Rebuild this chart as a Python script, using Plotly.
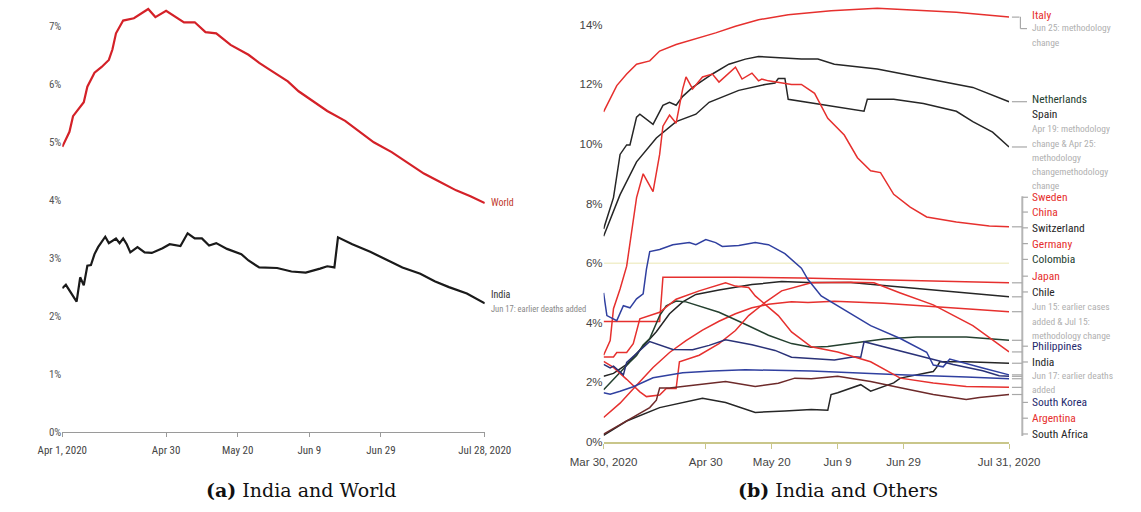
import plotly.graph_objects as go
import pandas as pd

W, H = 1141, 512

# ---------------- Panel (a): India and World (days since Apr 1, 2020; CFR %) ----------------
world_days = [0, 2, 3, 5, 6, 7, 9, 11, 13, 14, 15, 17, 20, 24, 26, 29, 34, 37, 40, 43,
              47, 52, 55, 58, 63, 66, 70, 74, 79, 83, 87, 92, 97, 101, 105, 110, 114, 118]
world_cfr = [4.92, 5.18, 5.45, 5.60, 5.69, 5.96, 6.20, 6.30, 6.42, 6.60, 6.88, 7.10, 7.14, 7.30, 7.16,
             7.27, 7.07, 7.07, 6.90, 6.88, 6.68, 6.51, 6.37, 6.25, 6.05, 5.88, 5.71, 5.54, 5.37, 5.18,
             5.00, 4.83, 4.63, 4.46, 4.33, 4.17, 4.07, 3.95]

india_a_days = [0, 1, 4, 5, 6, 7, 8, 9, 10, 12, 13, 15, 16, 17, 18, 19, 21, 23, 25, 28, 30, 33, 35,
                37, 39, 41, 43, 46, 50, 52, 55, 60, 64, 68, 72, 74, 76, 77, 81, 86, 91, 95, 100,
                104, 108, 113, 118]
india_a_cfr = [2.48, 2.54, 2.25, 2.67, 2.53, 2.87, 2.88, 3.07, 3.19, 3.37, 3.26, 3.34, 3.26, 3.34,
               3.24, 3.10, 3.19, 3.10, 3.09, 3.17, 3.24, 3.21, 3.43, 3.34, 3.34, 3.22, 3.26, 3.16,
               3.07, 2.96, 2.84, 2.83, 2.77, 2.75, 2.82, 2.86, 2.84, 3.36, 3.24, 3.11, 2.96, 2.84,
               2.73, 2.60, 2.50, 2.39, 2.22]

a_tick_dates = ["2020-04-01", "2020-04-30", "2020-05-20", "2020-06-09", "2020-06-29", "2020-07-28"]
a_tick_text = ["Apr 1, 2020", "Apr 30", "May 20", "Jun 9", "Jun 29", "Jul 28, 2020"]
a_y_ticks = [0, 1, 2, 3, 4, 5, 6, 7]

# ---------------- Panel (b): India and Others (days since Mar 30, 2020; CFR %) ----------------
italy_days = [0, 4, 7, 10, 14, 17, 22, 28, 34, 40, 47, 56, 69, 83, 93, 107, 123]
italy_cfr = [11.08, 11.96, 12.35, 12.68, 12.79, 13.12, 13.34, 13.53, 13.73, 13.95, 14.17, 14.34,
             14.47, 14.56, 14.50, 14.42, 14.26]

neth_days = [0, 3, 5, 7, 8, 10, 11, 15, 18, 20, 22, 24, 27, 33, 38, 43, 47, 54, 60, 65, 70, 83,
             93, 102, 112, 123]
neth_cfr = [7.15, 8.2, 9.65, 9.97, 9.97, 10.9, 11.0, 10.66, 11.3, 11.4, 11.3, 11.6, 11.9, 12.35,
            12.68, 12.85, 12.94, 12.9, 12.85, 12.85, 12.68, 12.52, 12.3, 12.12, 11.9, 11.42]

spain_days = [0, 5, 10, 16, 22, 28, 32, 41, 49, 52, 53, 55, 56, 64, 79, 80, 88, 97, 107, 112, 118, 123]
spain_cfr = [6.9, 8.3, 9.4, 10.2, 10.75, 11.0, 11.4, 11.8, 12.0, 12.05, 12.2, 12.2, 11.5, 11.36,
             11.1, 11.5, 11.5, 11.36, 11.1, 10.75, 10.4, 9.9]

sweden_days = [0, 2, 3, 5, 7, 9, 10, 12, 15, 17, 18, 20, 22, 24, 25, 27, 30, 33, 35, 40, 42, 45,
               47, 48, 50, 57, 60, 64, 68, 73, 77, 81, 84, 88, 93, 98, 107, 117, 123]
sweden_cfr = [2.91, 3.4, 4.47, 5.13, 5.9, 7.4, 8.2, 9.0, 8.4, 9.65, 10.6, 10.97, 10.7, 11.85, 12.25,
              11.85, 12.25, 12.35, 12.08, 12.58, 12.18, 12.38, 12.12, 12.18, 12.12, 12.0, 12.0,
              11.7, 10.86, 10.3, 9.54, 9.1, 9.04, 8.31, 7.88, 7.55, 7.38, 7.25, 7.22]

china_days = [0, 17, 18, 40, 60, 80, 100, 123]
china_cfr = [4.04, 4.04, 5.53, 5.53, 5.5, 5.45, 5.4, 5.34]

swiss_days = [0, 3, 7, 12, 16, 20, 24, 28, 35, 45, 54, 62, 75, 90, 105, 123]
swiss_cfr = [2.2, 2.3, 2.6, 3.2, 3.7, 4.3, 4.7, 4.95, 5.1, 5.28, 5.38, 5.35, 5.35, 5.2, 5.05, 4.87]

germany_days = [0, 5, 10, 15, 20, 25, 30, 35, 40, 45, 50, 57, 62, 70, 85, 100, 112, 123]
germany_cfr = [0.82, 1.3, 1.9, 2.5, 3.0, 3.4, 3.75, 4.05, 4.3, 4.5, 4.62, 4.7, 4.68, 4.72, 4.65,
               4.55, 4.45, 4.37]

colombia_days = [0, 5, 8, 10, 12, 14, 17, 19, 22, 25, 29, 35, 42, 50, 57, 63, 68, 75, 85, 95, 110, 123]
colombia_cfr = [1.75, 2.35, 2.68, 2.9, 3.25, 3.47, 4.24, 4.57, 4.73, 4.7, 4.57, 4.35, 4.0, 3.58,
                3.3, 3.18, 3.2, 3.3, 3.45, 3.52, 3.52, 3.41]

japan_days = [0, 3, 7, 11, 13, 17, 19, 22, 23, 29, 35, 40, 44, 49, 54, 63, 75, 82, 90, 100, 112, 123]
japan_cfr = [2.7, 2.5, 2.1, 1.68, 1.52, 1.57, 1.79, 1.79, 2.69, 2.91, 3.3, 3.74, 4.24, 4.68, 5.07,
             5.34, 5.36, 5.34, 5.0, 4.6, 3.9, 3.02]

chile_days = [0, 7, 17, 30, 37, 46, 55, 63, 68, 69, 71, 78, 81, 88, 90, 100, 101, 102, 110, 123]
chile_cfr = [0.22, 0.7, 1.15, 1.46, 1.32, 0.99, 1.04, 1.09, 1.06, 1.59, 1.65, 1.92, 1.7, 1.98,
             2.14, 2.36, 2.5, 2.69, 2.69, 2.64]

phil_days = [0, 1, 4, 6, 8, 10, 12, 13, 14, 17, 21, 26, 28, 31, 34, 36, 41, 46, 50, 55, 60, 62,
             66, 71, 81, 90, 98, 100, 103, 105, 109, 115, 123]
phil_cfr = [5.0, 4.24, 4.07, 4.57, 4.5, 4.8, 4.97, 5.8, 6.39, 6.46, 6.62, 6.69, 6.62, 6.79, 6.69,
            6.56, 6.59, 6.69, 6.62, 6.32, 5.83, 5.45, 4.9, 4.57, 3.9, 3.47, 3.01, 2.58, 2.52,
            2.78, 2.65, 2.48, 2.25]

india_b_days = [0, 2, 3, 6, 7, 9, 11, 12, 14, 21, 27, 32, 37, 45, 52, 57, 66, 70, 76, 78, 79, 88,
                97, 106, 115, 120, 123]
india_b_cfr = [2.6, 2.48, 2.54, 2.25, 2.67, 2.87, 3.07, 3.19, 3.37, 3.10, 3.09, 3.24, 3.43, 3.26,
               3.07, 2.84, 2.77, 2.75, 2.86, 2.84, 3.36, 3.11, 2.84, 2.60, 2.39, 2.22, 2.2]

korea_days = [0, 2, 5, 9, 15, 24, 33, 43, 63, 90, 110, 123]
korea_cfr = [1.65, 1.6, 1.7, 1.85, 2.15, 2.32, 2.38, 2.42, 2.38, 2.25, 2.18, 2.12]

argentina_days = [0, 3, 4, 7, 9, 11, 17, 22, 29, 37, 40, 44, 46, 49, 53, 57, 63, 71, 81, 90, 100, 110, 123]
argentina_cfr = [2.85, 2.85, 3.0, 3.0, 3.3, 4.13, 4.35, 4.79, 5.07, 5.34, 5.23, 5.18, 4.9, 4.62,
                 4.24, 3.69, 3.19, 3.02, 2.69, 2.14, 1.98, 1.86, 1.83]

safrica_days = [0, 7, 14, 16, 17, 20, 28, 37, 46, 53, 58, 63, 71, 81, 90, 100, 110, 114, 123]
safrica_cfr = [0.26, 0.7, 1.15, 1.4, 1.81, 1.81, 1.92, 2.03, 1.86, 1.97, 2.14, 2.12, 2.2, 2.03,
               1.82, 1.59, 1.42, 1.49, 1.59]

b_tick_dates = ["2020-03-30", "2020-04-30", "2020-05-20", "2020-06-09", "2020-06-29", "2020-07-31"]
b_tick_text = ["Mar 30, 2020", "Apr 30", "May 20", "Jun 9", "Jun 29", "Jul 31, 2020"]
b_y_ticks = [0, 2, 4, 6, 8, 10, 12, 14]

# ---------------- styles ----------------
RED = "#e6302e"
BLACK = "#262626"
DKGREEN = "#24402f"
NAVY = "#3040a0"
INDIA_B = "#2a3278"
BROWN = "#6d2a2a"
GRAY = "#a8a8a8"
NARROW = "Liberation Sans Narrow, Arial Narrow, Roboto Condensed, Liberation Sans, Arial, sans-serif"
SANS = "Liberation Sans, Arial, sans-serif"

base_a = pd.Timestamp("2020-04-01")
base_b = pd.Timestamp("2020-03-30")


def to_dates(base, days):
    return [base + pd.Timedelta(days=d) for d in days]


def px(x):
    return x / W


def py(y):
    return 1 - y / H


fig = go.Figure()

# Panel (a)
fig.add_trace(go.Scatter(x=to_dates(base_a, world_days), y=world_cfr, mode="lines",
                         line=dict(color="#d42128", width=2.2), xaxis="x", yaxis="y", name="World"))
fig.add_trace(go.Scatter(x=to_dates(base_a, india_a_days), y=india_a_cfr, mode="lines",
                         line=dict(color="#1a1a1a", width=2.2), xaxis="x", yaxis="y", name="India"))

# Panel (b) series: (name, days, values, colour, label y px, label colour)
b_series = [
    ("Italy", italy_days, italy_cfr, RED, 15, RED),
    ("Netherlands", neth_days, neth_cfr, BLACK, 100, DKGREEN),
    ("Spain", spain_days, spain_cfr, BLACK, 116, BLACK),
    ("Sweden", sweden_days, sweden_cfr, RED, 200, RED),
    ("China", china_days, china_cfr, RED, 215, RED),
    ("Switzerland", swiss_days, swiss_cfr, BLACK, 231, BLACK),
    ("Germany", germany_days, germany_cfr, RED, 247, RED),
    ("Colombia", colombia_days, colombia_cfr, DKGREEN, 263, DKGREEN),
    ("Japan", japan_days, japan_cfr, RED, 280, RED),
    ("Chile", chile_days, chile_cfr, BLACK, 296, BLACK),
    ("Philippines", phil_days, phil_cfr, NAVY, 351, "#1f2a6e"),
    ("India", india_b_days, india_b_cfr, INDIA_B, 367, BLACK),
    ("South Korea", korea_days, korea_cfr, NAVY, 408, "#1f2a6e"),
    ("Argentina", argentina_days, argentina_cfr, RED, 424, RED),
    ("South Africa", safrica_days, safrica_cfr, BROWN, 440, BLACK),
]

for name, d, v, col, _, _ in b_series:
    fig.add_trace(go.Scatter(x=to_dates(base_b, d), y=v, mode="lines",
                             line=dict(color=col, width=1.5), xaxis="x2", yaxis="y2", name=name))

annotations = []
shapes = []

# right-hand labels
for name, d, v, col, ylab, lcol in b_series:
    annotations.append(dict(text=name, x=px(1056), y=py(ylab), xref="paper", yref="paper",
                            xanchor="left", yanchor="middle", showarrow=False,
                            font=dict(family=NARROW, size=11.5, color=lcol)))

# grey notes
notes = [
    ("Jun 25: methodology", 28), ("change", 43),
    ("Apr 19: methodology", 130), ("change & Apr 25:", 145), ("methodology", 160),
    ("changemethodology", 174), ("change", 188),
    ("Jun 15: earlier cases", 311), ("added & Jul 15:", 326), ("methodology change", 340),
    ("Jun 17: earlier deaths", 381), ("added", 395),
]
for t, yy in notes:
    annotations.append(dict(text=t, x=px(1056), y=py(yy), xref="paper", yref="paper",
                            xanchor="left", yanchor="middle", showarrow=False,
                            font=dict(family=NARROW, size=9.5, color="#b0b0b0")))

# connectors
def seg(x0, y0, x1, y1, yref="paper", color=GRAY, width=1.2):
    shapes.append(dict(type="line", xref="paper", yref=yref, x0=x0, y0=y0, x1=x1, y1=y1,
                       line=dict(color=color, width=width)))

# Italy elbow
seg(px(1037), italy_cfr[-1], px(1045), italy_cfr[-1], yref="y2")
seg(px(1046), py(17), px(1046), py(29))
seg(px(1046), py(29), px(1053), py(29))
# Netherlands, Spain
seg(px(1037), neth_cfr[-1], px(1053), neth_cfr[-1], yref="y2")
seg(px(1037), spain_cfr[-1], px(1053), spain_cfr[-1], yref="y2")
# bracket for the lower group
seg(px(1048), py(199), px(1048), py(442), width=2, color="#b5b5b5")
for name, d, v, col, ylab, lcol in b_series[3:]:
    seg(px(1037), v[-1], px(1048), v[-1], yref="y2")
    seg(px(1048), py(ylab), px(1054), py(ylab))

# faint guide at 6% on panel (b)
shapes.append(dict(type="line", xref="x2", yref="y2", x0=base_b, x1=base_b + pd.Timedelta(days=123),
                   y0=6, y1=6, line=dict(color="#f1efcc", width=1.5), layer="below"))

# panel (a) labels
annotations += [
    dict(text="World", x=px(482), y=py(205), xref="paper", yref="paper", xanchor="left",
         yanchor="middle", showarrow=False, font=dict(family=NARROW, size=10, color="#c0392b")),
    dict(text="India", x=px(482), y=py(299), xref="paper", yref="paper", xanchor="left",
         yanchor="middle", showarrow=False, font=dict(family=NARROW, size=10, color="#333")),
    dict(text="Jun 17: earlier deaths added", x=px(482), y=py(313), xref="paper", yref="paper",
         xanchor="left", yanchor="middle", showarrow=False,
         font=dict(family=NARROW, size=8.5, color="#888")),
]

# captions
CAP = "DejaVu Serif, Liberation Serif, serif"
annotations += [
    dict(text="<b>(a)</b> India and World", x=px(283), y=py(497), xref="paper", yref="paper",
         xanchor="center", yanchor="middle", showarrow=False,
         font=dict(family=CAP, size=19, color="#111")),
    dict(text="<b>(b)</b> India and Others", x=px(853), y=py(497), xref="paper", yref="paper",
         xanchor="center", yanchor="middle", showarrow=False,
         font=dict(family=CAP, size=19, color="#111")),
]

fig.update_layout(
    width=W, height=H, margin=dict(l=0, r=0, t=0, b=0),
    paper_bgcolor="white", plot_bgcolor="white", showlegend=False,
    xaxis=dict(domain=[px(30), px(478)], anchor="y", type="date",
               range=[base_a, base_a + pd.Timedelta(days=118)],
               tickvals=a_tick_dates, ticktext=a_tick_text, showgrid=False, zeroline=False,
               showline=True, linecolor="#9a9a9a", linewidth=1, ticks="outside", ticklen=4,
               tickcolor="#9a9a9a", ticklabelstandoff=4,
               tickfont=dict(family=NARROW, size=11, color="#444")),
    yaxis=dict(domain=[py(438), py(5)], anchor="x", range=[0, 7.37], tickvals=a_y_ticks,
               ticktext=[f"{t}%" for t in a_y_ticks], showgrid=False, zeroline=False,
               showline=False, ticks="", tickfont=dict(family=NARROW, size=11, color="#555")),
    xaxis2=dict(domain=[px(604), px(1034)], anchor="y2", type="date",
                range=[base_b, base_b + pd.Timedelta(days=123)],
                tickvals=b_tick_dates, ticktext=b_tick_text, showgrid=False, zeroline=False,
                showline=True, linecolor="#c9c68a", linewidth=1.5, ticks="outside", ticklen=5,
                tickcolor="#c9c68a", ticklabelstandoff=4,
                tickfont=dict(family=SANS, size=11.5, color="#444")),
    yaxis2=dict(domain=[py(448), py(5)], anchor="x2", range=[0, 443 / 30.2], tickvals=b_y_ticks,
                ticktext=[f"{t}%" for t in b_y_ticks], showgrid=False, zeroline=False,
                showline=False, ticks="", tickfont=dict(family=SANS, size=11.5, color="#444")),
    annotations=annotations, shapes=shapes,
)

fig.write_html("out.html")
